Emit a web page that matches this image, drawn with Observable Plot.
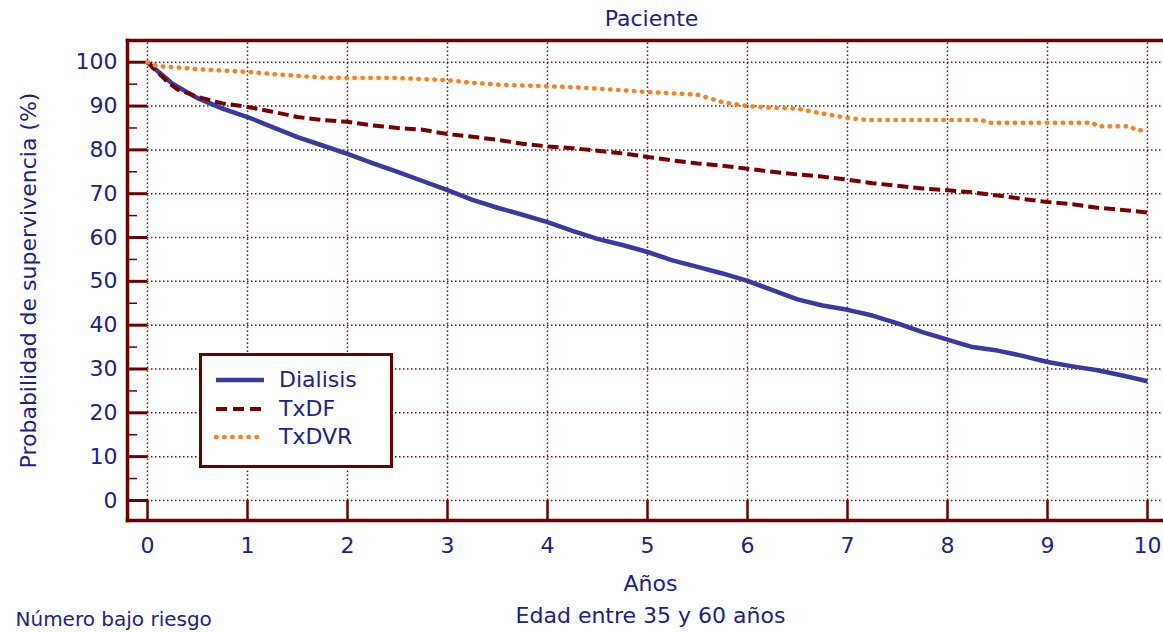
<!DOCTYPE html>
<html>
<head>
<meta charset="utf-8">
<script src="https://cdn.jsdelivr.net/npm/d3@7"></script>
<script src="https://cdn.jsdelivr.net/npm/@observablehq/plot@0.6"></script>
<style>
  html, body { margin: 0; padding: 0; background: #ffffff; }
  #wrap { position: relative; width: 1163px; height: 632px; overflow: hidden; font-family: "DejaVu Sans", sans-serif; }
  #legend { position: absolute; left: 199px; top: 353px; width: 188px; height: 109px;
            border: 3px solid #700000; background: #ffffff; }
  .item { position: absolute; left: 0; height: 28px; width: 188px; }
  .item svg { position: absolute; left: 12px; top: 0; }
  .item span { position: absolute; left: 77px; top: 1px; font-size: 22px; color: #202096; line-height: 26px; }
</style>
</head>
<body>
<div id="wrap"></div>
<script>
// ---- data ----
const xTicks = [0, 1, 2, 3, 4, 5, 6, 7, 8, 9, 10];
const yTicks = [0, 10, 20, 30, 40, 50, 60, 70, 80, 90, 100];
const yMinor = [5, 15, 25, 35, 45, 55, 65, 75, 85, 95];

const dialisisX = [0, 0.05, 0.1, 0.25, 0.5, 0.75, 1, 1.25, 1.5, 1.75, 2, 2.25, 2.5, 2.75, 3, 3.25, 3.5, 3.75, 4, 4.25, 4.5, 4.75, 5, 5.25, 5.5, 5.75, 6, 6.25, 6.5, 6.75, 7, 7.25, 7.5, 7.75, 8, 8.25, 8.5, 8.75, 9, 9.25, 9.5, 9.75, 10];
const dialisisY = [100, 99, 98, 95.1, 91.8, 89.4, 87.5, 85.2, 82.9, 81, 79.1, 77, 75, 72.9, 70.8, 68.6, 66.8, 65.2, 63.5, 61.5, 59.7, 58.3, 56.7, 54.8, 53.3, 51.8, 50.1, 48, 45.9, 44.5, 43.5, 42.2, 40.4, 38.4, 36.7, 35, 34.2, 33, 31.6, 30.6, 29.7, 28.5, 27.2];

const txdfX = [0, 0.05, 0.1, 0.2, 0.3, 0.5, 0.75, 1, 1.25, 1.5, 1.75, 2, 2.25, 2.5, 2.75, 3, 3.25, 3.5, 3.75, 4, 4.25, 4.5, 4.75, 5, 5.25, 5.5, 5.75, 6, 6.25, 6.5, 6.75, 7, 7.25, 7.5, 7.75, 8, 8.25, 8.5, 8.75, 9, 9.25, 9.5, 9.75, 10];
const txdfY = [100, 98.8, 97.8, 95.5, 93.8, 92.1, 90.6, 89.8, 88.7, 87.5, 86.8, 86.4, 85.6, 85, 84.6, 83.6, 83, 82.3, 81.4, 80.8, 80.4, 79.8, 79.2, 78.4, 77.6, 76.9, 76.4, 75.7, 75, 74.4, 73.9, 73.2, 72.4, 71.8, 71.2, 70.8, 70.3, 69.6, 68.8, 68.1, 67.6, 66.8, 66.3, 65.7];

const txdvrX = [0, 0.1, 0.25, 0.5, 0.75, 1, 1.25, 1.5, 1.75, 2, 2.5, 3, 3.25, 3.5, 3.75, 4, 4.25, 4.5, 4.75, 5, 5.25, 5.5, 5.75, 6, 6.25, 6.5, 6.75, 7, 7.2, 8.35, 8.4, 9.45, 9.5, 9.83, 9.88, 10];
const txdvrY = [100, 99.1, 98.9, 98.4, 98.1, 97.8, 97.3, 96.9, 96.5, 96.4, 96.4, 95.9, 95.3, 94.9, 94.7, 94.5, 94.3, 94, 93.6, 93.2, 92.9, 92.6, 90.9, 90, 89.6, 89.4, 88.3, 87.3, 86.8, 86.8, 86.2, 86.2, 85.4, 85.4, 84.5, 84.5];

const seriesNames = ["Dialisis", "TxDF", "TxDVR"];
const seriesColors = ["#3a3aa2", "#7c0000", "#ff8020"];
const seriesDash = [null, "11,5", "0.5,7.5"];
const seriesWidth = [4.5, 4, 4.5];

const titleText = "Paciente";
const xLabel = "Años";
const yLabel = "Probabilidad de supervivencia (%)";
const subText = "Edad entre 35 y 60 años";
const riskText = "Número bajo riesgo";

// ---- scale extents ----
const xDomain = [-0.2, 10.16];
const yDomain = [-4.57, 104.96];

const textColor = "#202096";
const frameColor = "#700000";
const gridColor = "#9a0000";
const fontSize = 22;

const toRows = (xs, ys) => xs.map((x, i) => ({x, y: ys[i]}));
const series = [toRows(dialisisX, dialisisY), toRows(txdfX, txdfY), toRows(txdvrX, txdvrY)];

const chart = Plot.plot({
  width: 1163,
  height: 632,
  marginLeft: 127,
  marginRight: 0,
  marginTop: 40,
  marginBottom: 112,
  style: {fontFamily: "DejaVu Sans, sans-serif", background: "#ffffff", overflow: "visible"},
  x: {domain: xDomain},
  y: {domain: yDomain},
  marks: [
    // dotted grid
    Plot.ruleY(yTicks, {x1: xTicks[0], x2: xDomain[1], stroke: gridColor, strokeWidth: 1.5, strokeDasharray: "1.5,2.5"}),
    Plot.ruleX(xTicks, {y1: yTicks[0], y2: yDomain[1], stroke: gridColor, strokeWidth: 1.5, strokeDasharray: "1.5,2.5"}),
    // inward ticks
    Plot.ruleY(yTicks, {x1: xDomain[0], x2: xTicks[0], stroke: frameColor, strokeWidth: 3}),
    Plot.ruleY(yMinor, {x1: xDomain[0], x2: (xDomain[0] + xTicks[0]) / 2, stroke: frameColor, strokeWidth: 1.5}),
    Plot.ruleX(xTicks, {y1: yDomain[0], y2: yTicks[0], stroke: frameColor, strokeWidth: 2.5}),
    // series
    ...series.map((rows, i) => Plot.line(rows, {
      x: "x", y: "y", stroke: seriesColors[i], strokeWidth: seriesWidth[i],
      strokeDasharray: seriesDash[i], strokeLinecap: i === 2 ? "round" : "butt", strokeLinejoin: "round"
    })),
    // frame
    Plot.frame({anchor: "left", stroke: frameColor, strokeWidth: 3.5}),
    Plot.frame({anchor: "top", stroke: frameColor, strokeWidth: 3.5}),
    Plot.frame({anchor: "bottom", stroke: frameColor, strokeWidth: 3.5}),
    // axes
    Plot.axisY(yTicks, {anchor: "left", tickSize: 0, tickPadding: 10, fontSize, fill: textColor, label: null}),
    Plot.axisX(xTicks, {anchor: "bottom", tickSize: 0, tickPadding: 17, fontSize, fill: textColor, label: null}),
    // texts
    Plot.text([titleText], {frameAnchor: "top", dx: 6, dy: -22, lineAnchor: "middle", fontSize, fill: textColor}),
    Plot.text([yLabel], {frameAnchor: "left", dx: -99, rotate: -90, textAnchor: "middle", lineAnchor: "middle", fontSize, fill: textColor}),
    Plot.text([xLabel], {frameAnchor: "bottom", dx: 5, dy: 63, lineAnchor: "middle", fontSize, fill: textColor}),
    Plot.text([subText], {frameAnchor: "bottom", dx: 5, dy: 95, lineAnchor: "middle", fontSize, fill: textColor}),
    Plot.text([riskText], {frameAnchor: "bottom-left", dx: -112, dy: 99, textAnchor: "start", lineAnchor: "middle", fontSize: 20, fill: textColor})
  ]
});

const wrap = document.getElementById("wrap");
wrap.appendChild(chart);

// legend box
const legend = document.createElement("div");
legend.id = "legend";
seriesNames.forEach((name, i) => {
  const item = document.createElement("div");
  item.className = "item";
  item.style.top = (10 + i * 28.5) + "px";
  const svg = d3.create("svg").attr("width", 52).attr("height", 28);
  svg.append("line")
    .attr("x1", 2).attr("x2", 50).attr("y1", 14).attr("y2", 14)
    .attr("stroke", seriesColors[i]).attr("stroke-width", seriesWidth[i])
    .attr("stroke-dasharray", i === 1 ? "11,6" : (i === 2 ? "0.5,7.6" : null))
    .attr("stroke-linecap", i === 2 ? "round" : "butt");
  item.appendChild(svg.node());
  const label = document.createElement("span");
  label.textContent = name;
  item.appendChild(label);
  legend.appendChild(item);
});
wrap.appendChild(legend);
</script>
</body>
</html>
